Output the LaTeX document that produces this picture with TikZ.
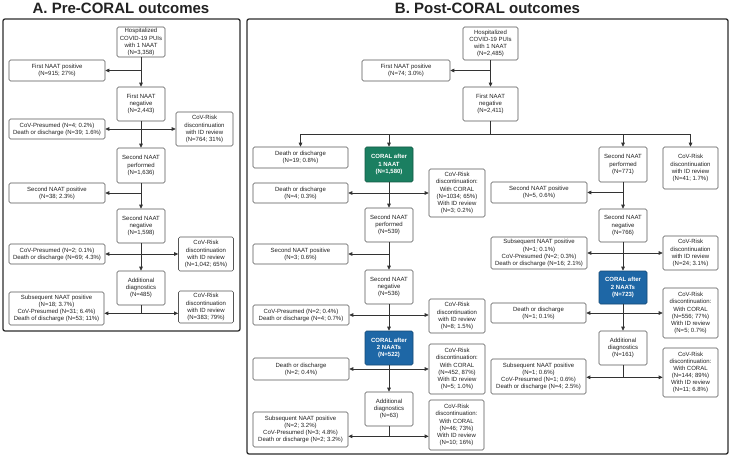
\documentclass[tikz,border=0pt]{standalone}
\usepackage{fontspec}
\setmainfont{Liberation Sans}
\usetikzlibrary{arrows.meta}
\definecolor{bordergray}{HTML}{555555}
\definecolor{linegray}{HTML}{333333}
\definecolor{textgray}{HTML}{222222}
\definecolor{framegray}{HTML}{2E2E2E}
\definecolor{coralgreen}{HTML}{1B7F61}
\definecolor{coralblue}{HTML}{1E67A6}
\newcommand\boxfont{\fontsize{6.0}{7.1}\selectfont}
\newcommand\titlefont{\fontsize{15}{16}\selectfont\bfseries}
\tikzset{
  box/.style={draw=bordergray, line width=0.65pt, rounded corners=1.5pt, fill=white,
    align=center, inner sep=0pt, font=\boxfont, text=textgray},
  sz/.style 2 args={minimum width=#1pt, minimum height=#2pt},
  coralg/.style={box, fill=coralgreen, draw=coralgreen!70!black, font=\boxfont\bfseries, text=white},
  coralb/.style={box, fill=coralblue, draw=coralblue!70!black, font=\boxfont\bfseries, text=white},
  arr/.style={draw=linegray, line width=0.7pt, -{Triangle[length=4pt,width=3.6pt]}},
  ln/.style={draw=linegray, line width=0.7pt},
  frame/.style={draw=framegray, line width=1.3pt, rounded corners=2pt},
  ttl/.style={font=\titlefont, text=textgray, inner sep=0pt},
}
\begin{document}
\begin{tikzpicture}[x=1pt,y=-1pt]
\useasboundingbox (0,0) rectangle (731,457);
\fill[white] (0,0) rectangle (731,457);
% ---------- Panel A ----------
\node[ttl] (tA) at (121,8.5) {A. Pre-CORAL outcomes};
\draw[frame] (3,19) rectangle (240,331);
\node[box, sz={48}{30}] (A1) at (141,42) {Hospitalized\\COVID-19 PUIs\\with 1 NAAT\\(N=3,358)};
\node[box, sz={96}{21}] (A2) at (57,70.5) {First NAAT positive\\(N=915; 27\%)};
\node[box, sz={48}{34}] (A3) at (141,104) {First NAAT\\negative\\(N=2,443)};
\node[box, sz={96}{20}] (A4) at (57,129) {CoV-Presumed (N=4; 0.2\%)\\Death or discharge (N=39; 1.6\%)};
\node[box, sz={57}{34}] (A5) at (204.5,129) {CoV-Risk\\discontinuation\\with ID review\\(N=764; 31\%)};
\node[box, sz={48}{35}] (A6) at (141,165.5) {Second NAAT\\performed\\(N=1,636)};
\node[box, sz={96}{20}] (A7) at (57,193) {Second NAAT positive\\(N=38; 2.3\%)};
\node[box, sz={48}{34}] (A8) at (141,226) {Second NAAT\\negative\\(N=1,598)};
\node[box, sz={96}{20}] (A9) at (57,254) {CoV-Presumed (N=2; 0.1\%)\\Death or discharge (N=69; 4.3\%)};
\node[box, sz={55}{34}] (A10) at (206,254) {CoV-Risk\\discontinuation\\with ID review\\(N=1,042; 65\%)};
\node[box, sz={48}{34}] (A11) at (141,288) {Additional\\diagnostics\\(N=485)};
\node[box, sz={95}{33}] (A12) at (56.5,308.5) {Subsequent NAAT positive\\(N=18; 3.7\%)\\CoV-Presumed (N=31; 6.4\%)\\Death of discharge (N=53; 11\%)};
\node[box, sz={55}{32}] (A13) at (206,307) {CoV-Risk\\discontinuation\\with ID review\\(N=383; 79\%)};
\draw[arr] (A1.south) -- (A3.north);
\draw[arr] (A1.south |- A2.east) -- (A2.east);
\draw[arr] (A3.south) -- (A6.north);
\draw[arr] (A3.south |- A4.east) -- (A4.east);
\draw[arr] (A3.south |- A4.east) -- (A5.west |- A4.east);
\draw[arr] (A6.south) -- (A8.north);
\draw[arr] (A6.south |- A7.east) -- (A7.east);
\draw[arr] (A8.south) -- (A11.north);
\draw[arr] (A8.south |- A9.east) -- (A9.east);
\draw[arr] (A8.south |- A9.east) -- (A10.west |- A9.east);
\draw[ln] (A11.south) -- ++(0,8) coordinate (a11j);
\draw[arr] (a11j) -- (a11j -| A12.east);
\draw[arr] (a11j) -- (a11j -| A13.west);
% ---------- Panel B ----------
\node[ttl] (tB) at (487.5,8.5) {B. Post-CORAL outcomes};
\draw[frame] (247,19) rectangle (728,454);
\node[box, sz={55}{33}] (B1) at (490.5,43.5) {Hospitalized\\COVID-19 PUIs\\with 1 NAAT\\(N=2,485)};
\node[box, sz={88}{21}] (B2) at (406,70.5) {First NAAT positive\\(N=74; 3.0\%)};
\node[box, sz={55}{34}] (B3) at (490.5,104) {First NAAT\\negative\\(N=2,411)};
% left-centre column
\node[box, sz={95}{21}] (B4) at (300.5,157.5) {Death or discharge\\(N=19; 0.8\%)};
\node[coralg, sz={48}{35}] (B5) at (389,164.5) {CORAL after\\1 NAAT\\(N=1,580)};
\node[box, sz={95}{20}] (B6) at (300.5,193) {Death or discharge\\(N=4; 0.3\%)};
\node[box, sz={56}{48}] (B7) at (457,193) {CoV-Risk\\discontinuation:\\With CORAL\\(N=1034; 65\%)\\With ID review\\(N=3; 0.2\%)};
\node[box, sz={48}{34}] (B8) at (389,225) {Second NAAT\\performed\\(N=539)};
\node[box, sz={95}{20}] (B9) at (300.5,254) {Second NAAT positive\\(N=3; 0.6\%)};
\node[box, sz={48}{34}] (B10) at (389,287) {Second NAAT\\negative\\(N=536)};
\node[box, sz={96}{20}] (B11) at (301,315) {CoV-Presumed (N=2; 0.4\%)\\Death or discharge (N=4; 0.7\%)};
\node[box, sz={56}{34}] (B12) at (457,316) {CoV-Risk\\discontinuation\\with ID review\\(N=8; 1.5\%)};
\node[coralb, sz={48}{34}] (B13) at (389,348) {CORAL after\\2 NAATs\\(N=522)};
\node[box, sz={96}{22}] (B14) at (301,369) {Death or discharge\\(N=2; 0.4\%)};
\node[box, sz={56}{50}] (B15) at (457,369) {CoV-Risk\\discontinuation:\\With CORAL\\(N=452, 87\%)\\With ID review\\(N=5; 1.0\%)};
\node[box, sz={48}{34}] (B16) at (389,409) {Additional\\diagnostics\\(N=63)};
\node[box, sz={95}{35}] (B17) at (300.5,429.5) {Subsequent NAAT positive\\(N=2; 3.2\%)\\CoV-Presumed (N=3; 4.8\%)\\Death or discharge (N=2; 3.2\%)};
\node[box, sz={55}{50}] (B18) at (456.5,425) {CoV-Risk\\discontinuation:\\With CORAL\\(N=46; 73\%)\\With ID review\\(N=10; 16\%)};
% right column
\node[box, sz={48}{35}] (B19) at (623,164.5) {Second NAAT\\performed\\(N=771)};
\node[box, sz={55}{42}] (B20) at (690.5,168) {CoV-Risk\\discontinuation\\with ID review\\(N=41; 1.7\%)};
\node[box, sz={96}{21}] (B21) at (539,192.5) {Second NAAT positive\\(N=5, 0.6\%)};
\node[box, sz={48}{33}] (B22) at (623,225.5) {Second NAAT\\negative\\(N=766)};
\node[box, sz={96}{32}] (B23) at (539,253) {Subsequent NAAT positive\\(N=1; 0.1\%)\\CoV-Presumed (N=2; 0.3\%)\\Death or discharge (N=16; 2.1\%)};
\node[box, sz={55}{34}] (B24) at (690.5,253) {CoV-Risk\\discontinuation\\with ID review\\(N=24; 3.1\%)};
\node[coralb, sz={48}{33}] (B25) at (623,287.5) {CORAL after\\2 NAATs\\(N=723)};
\node[box, sz={95}{20}] (B26) at (538.5,313) {Death or discharge\\(N=1; 0.1\%)};
\node[box, sz={55}{50}] (B27) at (690.5,313) {CoV-Risk\\discontinuation:\\With CORAL\\(N=556; 77\%)\\With ID review\\(N=5; 0.7\%)};
\node[box, sz={48}{34}] (B28) at (623,348) {Additional\\diagnostics\\(N=161)};
\node[box, sz={95}{35}] (B29) at (538.5,376.5) {Subsequent NAAT positive\\(N=1; 0.6\%)\\CoV-Presumed (N=1; 0.6\%)\\Death or discharge (N=4; 2.5\%)};
\node[box, sz={55}{49}] (B30) at (690.5,372.5) {CoV-Risk\\discontinuation:\\With CORAL\\(N=144; 89\%)\\With ID review\\(N=11; 6.8\%)};
% connectors B
\draw[arr] (B1.south) -- (B3.north);
\draw[arr] (B1.south |- B2.east) -- (B2.east);
\draw[ln] (B3.south) -- ++(0,13) coordinate (bj);
\draw[ln] (bj -| B4.north) -- (bj -| B20.north);
\draw[arr] (bj -| B4.north) -- (B4.north);
\draw[arr] (bj -| B5.north) -- (B5.north);
\draw[arr] (bj -| B19.north) -- (B19.north);
\draw[arr] (bj -| B20.north) -- (B20.north);
\draw[arr] (B5.south) -- (B8.north);
\draw[arr] (B5.south |- B6.east) -- (B6.east);
\draw[arr] (B5.south |- B6.east) -- (B7.west |- B6.east);
\draw[arr] (B8.south) -- (B10.north);
\draw[arr] (B8.south |- B9.east) -- (B9.east);
\draw[arr] (B10.south) -- (B13.north);
\draw[arr] (B10.south |- B11.east) -- (B11.east);
\draw[arr] (B10.south |- B11.east) -- (B12.west |- B11.east);
\draw[arr] (B13.south) -- (B16.north);
\draw[arr] (B13.south |- B14.east) -- (B14.east);
\draw[arr] (B13.south |- B14.east) -- (B15.west |- B14.east);
\draw[ln] (B16.south) -- ++(0,10) coordinate (b16j);
\draw[arr] (b16j) -- (b16j -| B17.east);
\draw[arr] (b16j) -- (b16j -| B18.west);
\draw[arr] (B19.south) -- (B22.north);
\draw[arr] (B19.south |- B21.east) -- (B21.east);
\draw[arr] (B22.south) -- (B25.north);
\draw[arr] (B22.south |- B23.east) -- (B23.east);
\draw[arr] (B22.south |- B23.east) -- (B24.west |- B23.east);
\draw[arr] (B25.south) -- (B28.north);
\draw[arr] (B25.south |- B26.east) -- (B26.east);
\draw[arr] (B25.south |- B26.east) -- (B27.west |- B26.east);
\draw[ln] (B28.south) -- ++(0,12) coordinate (b28j);
\draw[arr] (b28j) -- (b28j -| B29.east);
\draw[arr] (b28j) -- (b28j -| B30.west);
\end{tikzpicture}
\end{document}
